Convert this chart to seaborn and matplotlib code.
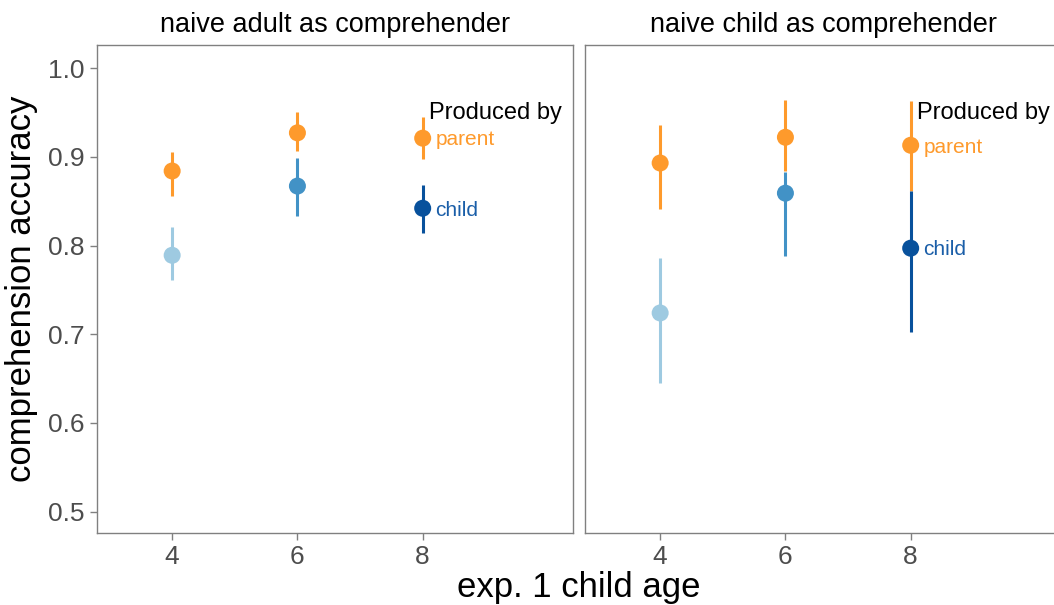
import matplotlib
matplotlib.use("Agg")
import matplotlib.pyplot as plt
import seaborn as sns
import pandas as pd

sns.set_theme(style="white")
plt.rcParams['font.family'] = ['Liberation Sans', 'DejaVu Sans']

ages = [4, 6, 8]
panels = ["naive adult as comprehender", "naive child as comprehender"]

adult_parent = [0.884, 0.927, 0.921]
adult_parent_lo = [0.856, 0.906, 0.897]
adult_parent_hi = [0.905, 0.951, 0.945]
adult_child = [0.789, 0.867, 0.842]
adult_child_lo = [0.761, 0.833, 0.814]
adult_child_hi = [0.821, 0.899, 0.868]

kid_parent = [0.893, 0.922, 0.913]
kid_parent_lo = [0.841, 0.884, 0.862]
kid_parent_hi = [0.936, 0.964, 0.963]
kid_child = [0.724, 0.859, 0.797]
kid_child_lo = [0.645, 0.788, 0.703]
kid_child_hi = [0.786, 0.883, 0.862]

parent_color = "#FE9A2C"
child_colors = ["#9ECAE1", "#4292C6", "#08519C"]

rows = []
for panel, (pm, plo, phi, cm, clo, chi) in zip(panels, [
        (adult_parent, adult_parent_lo, adult_parent_hi, adult_child, adult_child_lo, adult_child_hi),
        (kid_parent, kid_parent_lo, kid_parent_hi, kid_child, kid_child_lo, kid_child_hi)]):
    for i, a in enumerate(ages):
        rows.append(dict(panel=panel, age=a, who="parent", m=pm[i], lo=plo[i], hi=phi[i], col=parent_color))
        rows.append(dict(panel=panel, age=a, who="child", m=cm[i], lo=clo[i], hi=chi[i], col=child_colors[i]))
df = pd.DataFrame(rows)

fig = plt.figure(figsize=(10.54, 6.05), dpi=100)
W = 476 / 1054
B = 1 - 533 / 605
H = 488 / 605
axes = [fig.add_axes([97 / 1054, B, W, H]), fig.add_axes([585 / 1054, B, W, H])]

for ax, panel in zip(axes, panels):
    d = df[df.panel == panel]
    for _, r in d.iterrows():
        ax.vlines(r.age, r.lo, r.hi, color=r.col, lw=2.2, zorder=2)
    sns.scatterplot(data=d, x="age", y="m", hue=d.index.astype(str),
                    palette=dict(zip(d.index.astype(str), d.col)),
                    s=150, edgecolor="none", legend=False, ax=ax, zorder=3)
    ax.set_xlim(2.8, 10.4)
    ax.set_ylim(0.476, 1.026)
    ax.set_xticks(ages)
    ax.set_xticklabels([str(a) for a in ages])
    ax.set_title(panel, fontsize=19.5, color="black", pad=9)
    ax.set_xlabel("")
    ax.set_ylabel("")
    for s in ax.spines.values():
        s.set_color("#808080")
        s.set_linewidth(1.0)
    ax.tick_params(axis="both", which="both", length=5, width=1, color="#808080",
                   labelsize=19, labelcolor="#4D4D4D", pad=4,
                   bottom=True, left=True)
    ax.grid(False)
    # labels
    pm8 = d[(d.age == 8) & (d.who == "parent")].iloc[0]
    cm8 = d[(d.age == 8) & (d.who == "child")].iloc[0]
    ax.text(8.1, 0.949, "Produced by", fontsize=17, color="black", ha="left", va="center")
    ax.text(8.2, pm8.m - 0.002, "parent", fontsize=15, color=parent_color, ha="left", va="center")
    ax.text(8.2, cm8.m - 0.002, "child", fontsize=15, color="#1A5EA8", ha="left", va="center")

axes[0].set_yticks([0.5, 0.6, 0.7, 0.8, 0.9, 1.0])
axes[0].set_yticklabels(["0.5", "0.6", "0.7", "0.8", "0.9", "1.0"])
axes[1].set_yticks([])
axes[1].tick_params(axis="y", left=False, labelleft=False)

fig.text(22 / 1054, 1 - 289 / 605, "comprehension accuracy", rotation=90, fontsize=25,
         ha="center", va="center", color="black")
fig.text(579 / 1054, 1 - 588 / 605, "exp. 1 child age", fontsize=25,
         ha="center", va="center", color="black")

fig.savefig("out.png", dpi=100)
